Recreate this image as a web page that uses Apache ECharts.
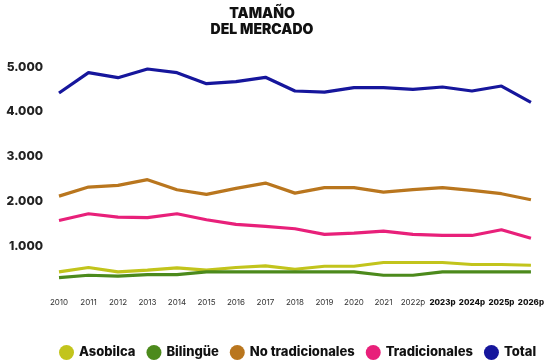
<!DOCTYPE html>
<html>
<head>
<meta charset="utf-8">
<script src="https://cdn.jsdelivr.net/npm/echarts@6/dist/echarts.min.js"></script>
<style>
  html, body { margin: 0; padding: 0; background: #fff; }
  #chart { width: 547px; height: 364px; }
</style>
</head>
<body>
<div id="chart"></div>
<script>
// Years on the x axis (p = projected)
const years = ['2010','2011','2012','2013','2014','2015','2016','2017','2018','2019','2020','2021','2022p','2023p','2024p','2025p','2026p'];
// Years drawn in bold
const boldYears = ['2023p','2024p','2025p','2026p'];

// Market size by segment
const asobilca        = [426, 524, 426, 464, 515, 464, 524, 560, 486, 553, 553, 636, 636, 636, 591, 591, 575];
const bilingue        = [300, 352, 330, 367, 367, 426, 426, 426, 426, 426, 426, 352, 352, 426, 426, 426, 426];
const noTradicionales = [2118, 2320, 2357, 2485, 2261, 2156, 2290, 2409, 2185, 2306, 2306, 2208, 2261, 2306, 2246, 2172, 2038];
const tradicionales   = [1575, 1725, 1649, 1636, 1725, 1591, 1486, 1441, 1389, 1263, 1293, 1336, 1263, 1240, 1240, 1367, 1177];
const total           = [4419, 4873, 4762, 4955, 4873, 4627, 4672, 4770, 4464, 4441, 4539, 4539, 4502, 4553, 4464, 4575, 4211];

// Y tick values
const yTicks = [1000, 2000, 3000, 4000, 5000];

const font = 'Inter, "Noto Sans", sans-serif';

const chart = echarts.init(document.getElementById('chart'));

function line(name, data, color) {
  return {
    name: name,
    type: 'line',
    data: data,
    symbol: 'none',
    smooth: false,
    lineStyle: { width: 3.2, color: color },
    itemStyle: { color: color }
  };
}

chart.setOption({
  animation: false,
  backgroundColor: '#ffffff',
  title: {
    text: 'TAMAÑO\nDEL MERCADO',
    left: 257,
    textAlign: 'center',
    top: 1,
    textStyle: {
      fontFamily: font,
      fontWeight: 900,
      fontSize: 14,
      lineHeight: 16,
      color: '#111111'
    }
  },
  legend: {
    bottom: 4,
    left: 59,
    width: 540,
    padding: 0,
    icon: 'circle',
    itemWidth: 15,
    itemHeight: 15,
    itemGap: 11,
    textStyle: {
      fontFamily: font,
      fontWeight: 800,
      fontSize: 13,
      color: '#111111'
    },
    data: ['Asobilca', 'Bilingüe', 'No tradicionales', 'Tradicionales', 'Total']
  },
  grid: {
    left: 59,
    right: 12,
    top: 67,
    bottom: 73,
    containLabel: false
  },
  xAxis: {
    type: 'category',
    data: years,
    boundaryGap: false,
    axisLine: { show: false },
    axisTick: { show: false },
    axisLabel: {
      margin: 8,
      interval: 0,
      fontFamily: font,
      fontSize: 8,
      color: '#333333',
      formatter: function (v) {
        return boldYears.indexOf(v) >= 0 ? '{b|' + v + '}' : v;
      },
      rich: {
        b: { fontFamily: font, fontSize: 8, fontWeight: 800, color: '#111111' }
      }
    }
  },
  yAxis: {
    type: 'value',
    min: 0,
    max: 5000,
    interval: 1000,
    splitLine: { show: false },
    axisLine: { show: false },
    axisTick: { show: false },
    axisLabel: {
      margin: 16,
      fontFamily: font,
      fontWeight: 800,
      fontSize: 12,
      color: '#222222',
      formatter: function (v) {
        if (yTicks.indexOf(v) < 0) return '';
        return (v / 1000).toFixed(3);
      }
    }
  },
  series: [
    line('Asobilca', asobilca, '#c2c41c'),
    line('Bilingüe', bilingue, '#4c8a1c'),
    line('No tradicionales', noTradicionales, '#b9761e'),
    line('Tradicionales', tradicionales, '#e8207a'),
    line('Total', total, '#16169c')
  ]
});
</script>
</body>
</html>
